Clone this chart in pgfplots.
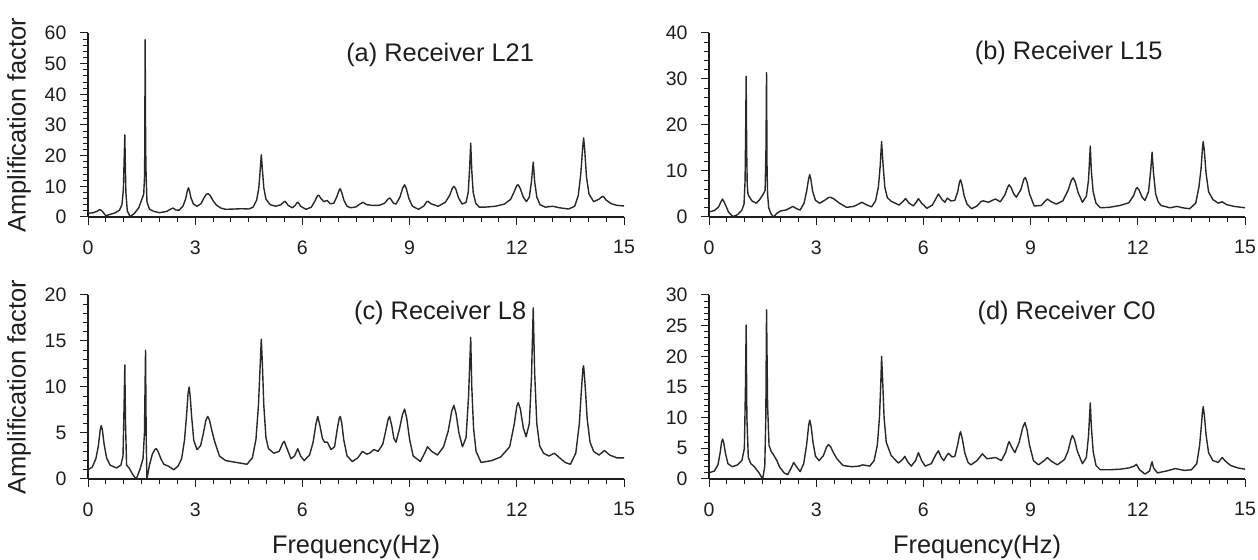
\documentclass[border=0pt]{standalone}
\usepackage{fontspec}
\setmainfont{Liberation Sans}
\usepackage{pgfplots}
\pgfplotsset{compat=1.18}

\definecolor{linecol}{RGB}{40,40,40}
\definecolor{txt}{RGB}{30,30,30}

\newcommand{\tickfont}{\fontsize{9.75}{11}\selectfont}
\newcommand{\labfont}{\fontsize{12.7}{14}\selectfont}

\pgfplotsset{
  panel/.style={
    scale only axis, width=268pt, height=92pt,
    xmin=0, xmax=15, ymin=0,
    axis x line*=bottom, axis y line*=left,
    axis line style={line width=0.6pt, txt},
    xtick={0,3,...,15}, minor x tick num=5,
    minor y tick num=4,
    tick align=outside,
    major tick length=4pt, minor tick length=2.5pt,
    tick style={line width=0.5pt, txt},
    /pgf/number format/assume math mode=true,
    ticklabel style={font=\tickfont, text=txt},
    xticklabel style={yshift=-4.25pt},
    yticklabel style={xshift=-3.25pt},
    label style={font=\labfont, text=txt},
  },
  spec/.style={draw=linecol, line width=0.7pt, no markers, line join=round},
}

\begin{document}
\begin{tikzpicture}
\path[use as bounding box] (0,0) rectangle (629pt,280pt);

% (a) Receiver L21
\begin{axis}[panel, at={(44pt,171.5pt)}, anchor=south west,
  ymax=60, ytick={0,10,...,60},
  ylabel={Amplification factor},
  ylabel style={at={([xshift=-34.5pt]rel axis cs:0,0.5)}, anchor=center}]
\addplot[spec] coordinates {
(0,1.2) (0.15,1.4) (0.26,1.9) (0.31,2.3) (0.34,2.4) (0.38,2.1) (0.43,1.4) (0.5,0.4) (0.6,0.8) (0.75,1.3) (0.88,2.2) (0.95,4) (0.99,9) (1.01,18) (1.03,26.8) (1.045,17) (1.06,8) (1.1,2) (1.18,0.1) (1.3,1.2) (1.42,3) (1.5,5.5) (1.56,7.5) (1.585,14) (1.6,57.8) (1.61,30) (1.62,16.5) (1.65,5) (1.72,2.5) (1.85,1.8) (2.0,1.4) (2.2,1.8) (2.3,2.5) (2.38,2.9) (2.46,2.3) (2.55,2.2) (2.66,3.6) (2.73,5.8) (2.78,8.5) (2.81,9.5) (2.84,8.5) (2.88,6.3) (2.95,4.2) (3.05,3.5) (3.16,4.3) (3.25,6.3) (3.31,7.4) (3.36,7.6) (3.42,7) (3.5,5.3) (3.6,3.8) (3.72,2.9) (3.85,2.5) (4.1,2.6) (4.3,2.7) (4.5,2.6) (4.62,3.2) (4.72,5.5) (4.78,9.5) (4.82,15.5) (4.85,20.3) (4.88,15.5) (4.92,9.5) (4.98,5.8) (5.1,4) (5.25,3.5) (5.4,4) (5.48,4.9) (5.52,5.1) (5.6,3.8) (5.72,3) (5.8,3.8) (5.85,4.7) (5.88,4.8) (5.95,3.5) (6.1,2.5) (6.25,3.2) (6.35,5.2) (6.42,6.9) (6.46,7.1) (6.52,6) (6.6,5) (6.69,5.4) (6.78,4.3) (6.88,4.5) (6.97,6.8) (7.03,8.8) (7.06,9.2) (7.1,8) (7.16,5.5) (7.25,3.5) (7.35,3) (7.5,3.3) (7.62,4.3) (7.7,4.8) (7.8,4) (7.95,3.8) (8.15,3.8) (8.3,4.5) (8.4,5.9) (8.45,6.2) (8.55,4.5) (8.62,4.2) (8.73,6.5) (8.81,9.5) (8.86,10.5) (8.91,9.2) (8.98,6) (9.08,3.5) (9.25,2.5) (9.4,3.6) (9.48,5) (9.52,5.1) (9.6,4.3) (9.8,3.5) (10.0,4.8) (10.12,7) (10.2,9.5) (10.24,10) (10.29,9.2) (10.37,6.2) (10.47,4.2) (10.58,4.8) (10.64,8) (10.68,16) (10.71,24.1) (10.74,15) (10.78,8) (10.85,4.5) (10.95,3.2) (11.1,3.2) (11.4,3.5) (11.65,4.2) (11.83,5.8) (11.94,8.6) (12.0,10.3) (12.04,10.5) (12.1,9.2) (12.18,6.5) (12.27,5) (12.35,6.5) (12.41,11.5) (12.46,17.9) (12.5,11.5) (12.56,6.5) (12.65,4) (12.8,3.2) (13.0,3.5) (13.2,3) (13.45,2.6) (13.62,3.5) (13.72,7) (13.79,14) (13.84,22) (13.87,25.8) (13.9,22) (13.95,13) (14.02,7.5) (14.15,5) (14.3,5.8) (14.38,6.6) (14.42,6.7) (14.5,5.5) (14.65,4.3) (14.8,3.8) (15,3.6)
};
\node[font=\labfont, text=txt] at (rel axis cs:0.657,0.88) {(a) Receiver L21};
\end{axis}

% (b) Receiver L15
\begin{axis}[panel, at={(354.5pt,171.5pt)}, anchor=south west,
  ymax=40, ytick={0,10,...,40}]
\addplot[spec] coordinates {
(0,1.1) (0.15,1.4) (0.27,2.2) (0.34,3.4) (0.38,3.9) (0.42,3.3) (0.48,2.3) (0.55,1) (0.67,0.1) (0.8,0.5) (0.92,1.5) (0.98,2.8) (1.01,8) (1.025,18) (1.04,30.6) (1.055,14) (1.07,7) (1.09,5) (1.12,4.5) (1.2,3.5) (1.32,3) (1.42,3.8) (1.52,5) (1.57,5.8) (1.595,15) (1.61,31.4) (1.625,10) (1.64,5) (1.67,2) (1.73,0.8) (1.8,0) (1.9,0.8) (2.0,1.3) (2.15,1.5) (2.28,2) (2.35,2.3) (2.45,1.8) (2.55,1.5) (2.66,3) (2.73,5.5) (2.79,8.4) (2.82,9.2) (2.85,8.2) (2.9,5.6) (2.98,3.6) (3.1,3) (3.25,3.7) (3.34,4.2) (3.4,4.3) (3.5,3.9) (3.65,3) (3.85,2.1) (4.05,2.3) (4.18,2.8) (4.28,3.2) (4.42,2.6) (4.55,2.2) (4.66,3.5) (4.74,6.5) (4.79,11) (4.83,16.4) (4.87,11.5) (4.92,6.5) (4.99,4.2) (5.1,3.4) (5.32,2.6) (5.42,3.3) (5.5,4) (5.6,3) (5.72,2.4) (5.8,3.2) (5.86,4) (5.95,3) (6.1,1.9) (6.25,2.6) (6.35,4) (6.42,5) (6.52,3.8) (6.6,3.2) (6.67,4.1) (6.77,3.5) (6.88,3.6) (6.96,5.5) (7.01,7.6) (7.04,8.1) (7.08,7) (7.14,4.6) (7.22,2.8) (7.35,1.8) (7.5,2.4) (7.62,3.4) (7.68,3.5) (7.82,3.2) (7.95,3.7) (8.02,3.9) (8.15,3.3) (8.28,4.8) (8.36,6.5) (8.4,7) (8.46,6.3) (8.53,5) (8.6,4.3) (8.73,6) (8.81,8.2) (8.85,8.6) (8.9,7.6) (8.97,5) (9.1,2.4) (9.3,2.5) (9.4,3.4) (9.47,3.9) (9.58,3.3) (9.72,2.8) (9.9,3.5) (10.05,5.8) (10.14,8) (10.19,8.5) (10.25,7.6) (10.33,5.3) (10.45,3.2) (10.56,4.5) (10.62,8) (10.67,15.4) (10.7,10) (10.75,5.5) (10.83,3) (10.95,2) (11.2,2.1) (11.5,2.5) (11.75,3.1) (11.88,4.6) (11.95,6.1) (11.98,6.4) (12.04,5.8) (12.12,4.3) (12.2,3.6) (12.3,5.5) (12.36,10) (12.4,14.1) (12.44,9.5) (12.5,5) (12.57,3.3) (12.65,2.5) (12.9,2) (13.1,2.3) (13.25,2) (13.45,1.8) (13.62,3) (13.71,6.5) (13.77,10.5) (13.81,15) (13.83,16.4) (13.86,14.5) (13.91,9.5) (13.98,5.5) (14.1,3.8) (14.25,3) (14.36,3.3) (14.48,2.7) (14.7,2.3) (15,2)
};
\node[font=\labfont, text=txt] at (rel axis cs:0.671,0.89) {(b) Receiver L15};
\end{axis}

% (c) Receiver L8
\begin{axis}[panel, at={(44pt,40.5pt)}, anchor=south west,
  ymax=20, ytick={0,5,...,20},
  ylabel={Amplification factor},
  ylabel style={at={([xshift=-34.5pt]rel axis cs:0,0.5)}, anchor=center},
  xlabel={Frequency(Hz)},
  xlabel style={at={([yshift=-34pt]rel axis cs:0.5,0)}, anchor=center}]
\addplot[spec] coordinates {
(0,1.0) (0.12,1.3) (0.22,2.2) (0.29,3.6) (0.34,5.3) (0.37,5.8) (0.4,5.4) (0.45,3.8) (0.52,2.3) (0.62,1.5) (0.8,1.2) (0.92,1.5) (0.98,2.5) (1.01,8) (1.03,12.4) (1.05,6) (1.08,1.5) (1.15,1.2) (1.25,0.5) (1.35,0) (1.45,1) (1.54,2.2) (1.58,5) (1.61,14) (1.63,4) (1.65,0) (1.72,1.5) (1.8,2.7) (1.87,3.2) (1.91,3.3) (1.96,3) (2.04,2.2) (2.12,1.6) (2.25,1.4) (2.4,1.0) (2.52,1.4) (2.62,2.2) (2.7,4.2) (2.76,7) (2.8,9.3) (2.83,10) (2.86,9) (2.9,6.8) (2.96,4.2) (3.05,3.2) (3.15,3.6) (3.23,5) (3.3,6.4) (3.35,6.8) (3.4,6.4) (3.47,5.2) (3.55,4.0) (3.68,2.5) (3.85,2) (4.15,1.8) (4.45,1.6) (4.6,2.3) (4.7,4.3) (4.77,8) (4.82,12.5) (4.85,15.2) (4.88,12.5) (4.92,8) (4.98,4.5) (5.05,3.3) (5.2,2.8) (5.35,3) (5.45,3.9) (5.49,4.1) (5.58,3.2) (5.68,2.2) (5.78,2.5) (5.87,3.3) (5.95,2.5) (6.05,2) (6.2,2.6) (6.3,4) (6.38,6) (6.43,6.8) (6.49,5.8) (6.56,4.4) (6.62,4) (6.7,4) (6.8,3.2) (6.9,3.5) (6.97,5.3) (7.03,6.6) (7.06,6.8) (7.1,6.1) (7.16,4.2) (7.25,2.5) (7.4,1.9) (7.55,2.3) (7.68,3) (7.8,2.7) (7.88,2.8) (8.0,3.2) (8.12,3) (8.25,3.8) (8.33,5.2) (8.4,6.5) (8.44,6.8) (8.5,5.8) (8.56,4.4) (8.62,4) (8.72,5.5) (8.8,7) (8.86,7.6) (8.92,6.6) (9.0,4.3) (9.1,2.5) (9.3,1.9) (9.42,2.8) (9.5,3.5) (9.62,3) (9.78,2.6) (9.95,3.5) (10.08,5.2) (10.18,7.4) (10.24,8) (10.3,7.1) (10.38,5) (10.48,3.5) (10.58,4.5) (10.65,9) (10.71,15.4) (10.74,10) (10.79,5.5) (10.86,3) (11.0,1.8) (11.3,2) (11.55,2.4) (11.8,3.5) (11.93,6) (12.0,7.9) (12.04,8.3) (12.1,7.6) (12.18,5.6) (12.26,4.6) (12.35,6) (12.41,11) (12.46,18.6) (12.5,11.5) (12.56,6) (12.64,3.6) (12.75,2.8) (12.9,2.5) (13.05,2.8) (13.2,2.3) (13.35,1.8) (13.5,1.6) (13.65,2.8) (13.75,6) (13.81,9.8) (13.85,12) (13.87,12.3) (13.91,10.3) (13.97,6.5) (14.05,4) (14.15,3) (14.3,2.6) (14.45,3.1) (14.6,2.6) (14.8,2.3) (15,2.3)
};
\node[font=\labfont, text=txt] at (rel axis cs:0.657,0.9) {(c) Receiver L8};
\end{axis}

% (d) Receiver C0
\begin{axis}[panel, at={(354.5pt,40.5pt)}, anchor=south west,
  ymax=30, ytick={0,5,...,30},
  xlabel={Frequency(Hz)},
  xlabel style={at={([yshift=-34pt]rel axis cs:0.5,0)}, anchor=center}]
\addplot[spec] coordinates {
(0,1.0) (0.15,1.3) (0.25,2.3) (0.31,4.2) (0.35,5.9) (0.38,6.5) (0.41,6) (0.46,4.2) (0.53,2.5) (0.65,2) (0.8,2.3) (0.92,3) (0.99,5) (1.02,15) (1.04,25.1) (1.06,10) (1.1,3.5) (1.17,2.5) (1.27,2) (1.4,1) (1.5,0) (1.56,2) (1.59,10) (1.61,27.6) (1.64,12) (1.68,5.5) (1.74,4.5) (1.8,4) (1.9,3) (1.97,2) (2.1,1) (2.2,0.7) (2.3,1.8) (2.37,2.7) (2.45,2) (2.55,1.2) (2.65,2.5) (2.73,5.5) (2.79,8.8) (2.82,9.6) (2.86,8.5) (2.91,6) (2.98,3.7) (3.08,3) (3.2,3.8) (3.29,5.2) (3.34,5.6) (3.4,5.3) (3.48,4.3) (3.58,3.3) (3.75,2.2) (4.0,2) (4.2,2.1) (4.3,2.3) (4.5,2.1) (4.62,3) (4.71,5.5) (4.77,10) (4.81,16) (4.83,20) (4.86,16) (4.9,10) (4.96,6) (5.1,3.8) (5.3,2.6) (5.42,3.2) (5.48,3.7) (5.56,2.8) (5.66,2.1) (5.78,3) (5.86,4.3) (5.95,3) (6.05,2.1) (6.22,2.5) (6.35,4) (6.42,4.6) (6.5,3.5) (6.57,3) (6.65,3.8) (6.7,4.2) (6.8,3.6) (6.88,3.7) (6.96,5.6) (7.01,7.2) (7.04,7.7) (7.09,6.5) (7.16,4.2) (7.25,2.7) (7.33,2.3) (7.5,3) (7.65,4.1) (7.78,3.3) (7.9,3.4) (8.02,3.5) (8.18,3) (8.3,4.3) (8.37,5.7) (8.4,6.1) (8.47,5.2) (8.56,4.3) (8.68,6) (8.78,8.4) (8.84,9.2) (8.9,8) (8.97,5.5) (9.08,3) (9.22,2.3) (9.38,3) (9.47,3.5) (9.58,2.9) (9.75,2.3) (9.95,3.2) (10.05,4.6) (10.13,6.5) (10.17,7.1) (10.23,6.4) (10.31,4.5) (10.45,2.5) (10.56,3.5) (10.62,7) (10.67,12.4) (10.7,8.5) (10.75,4.5) (10.83,2.2) (10.95,1.5) (11.2,1.5) (11.5,1.6) (11.75,1.8) (11.9,2.1) (11.96,2.4) (12.05,1.5) (12.2,0.8) (12.33,1.3) (12.38,2.5) (12.4,2.8) (12.44,1.8) (12.55,1.0) (12.8,1.3) (13.05,1.7) (13.3,1.4) (13.5,1.5) (13.65,2.5) (13.73,5.5) (13.78,8.8) (13.81,11) (13.83,11.8) (13.86,10.5) (13.91,7.2) (13.98,4.3) (14.1,3) (14.25,2.7) (14.36,3.5) (14.47,2.8) (14.6,2.2) (14.8,1.8) (15,1.6)
};
\node[font=\labfont, text=txt] at (rel axis cs:0.667,0.9) {(d) Receiver C0};
\end{axis}
\end{tikzpicture}
\end{document}
